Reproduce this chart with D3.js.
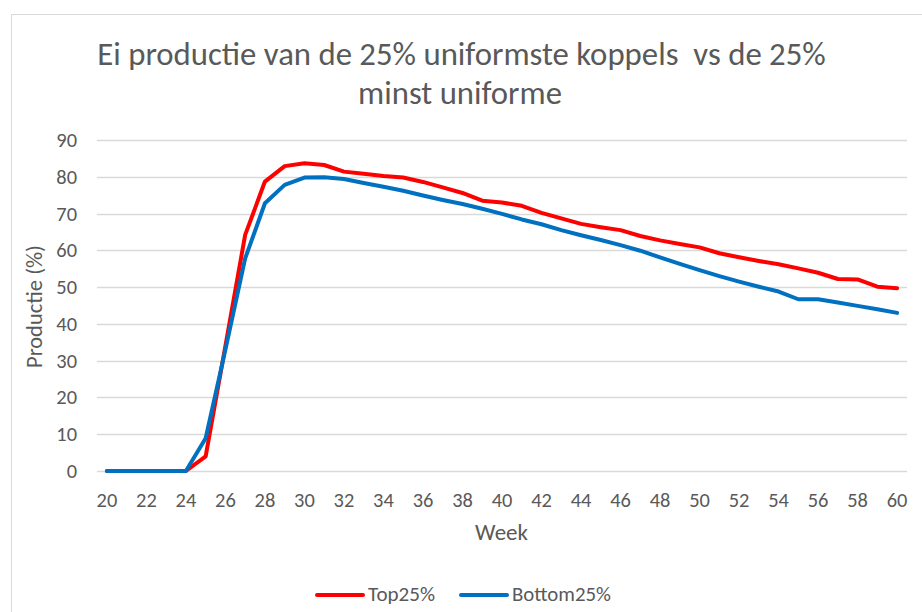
<!DOCTYPE html>
<html>
<head>
<meta charset="utf-8">
<script src="https://cdn.jsdelivr.net/npm/d3@7"></script>
<style>
  html, body { margin: 0; padding: 0; background: #fff; }
  svg { display: block; }
  text { font-family: "Carlito", "Lato", "Open Sans", sans-serif; fill: #595959; white-space: pre; }
</style>
</head>
<body>
<svg id="chart" width="922" height="612"></svg>
<script>
const weeks = d3.range(20, 61);
const top25 = [0, 0, 0, 0, 0, 4, 34, 64.2, 78.7, 82.9, 83.7, 83.2, 81.4, 80.8, 80.2, 79.8, 78.6, 77.1, 75.6, 73.5,
  73.0, 72.1, 70.2, 68.7, 67.2, 66.3, 65.5, 63.9, 62.7, 61.7, 60.8, 59.2, 58.1, 57.1, 56.2, 55.1, 53.9, 52.2, 52.1, 50.1, 49.7];
const bottom25 = [0, 0, 0, 0, 0, 8.9, 33, 57.8, 72.8, 77.8, 79.8, 79.9, 79.4, 78.3, 77.3, 76.2, 74.9, 73.7, 72.6, 71.3,
  69.9, 68.4, 67.1, 65.5, 64.1, 62.8, 61.4, 59.9, 58.1, 56.3, 54.6, 53.0, 51.5, 50.1, 48.8, 46.7, 46.7, 45.8, 44.9, 44.0, 43.0];
const yTicks = [0, 10, 20, 30, 40, 50, 60, 70, 80, 90];
const xTickLabels = weeks.filter(w => w % 2 === 0);
const seriesNames = ["Top25%", "Bottom25%"];
const seriesColors = ["#FF0000", "#0070C0"];
const titleLines = ["Ei productie van de 25% uniformste koppels  vs de 25%", "minst uniforme"];

const svg = d3.select("#chart");

// size a text so that its rendered width matches a target width
function fitSize(str, target, base, weight) {
  const t = svg.append("text").attr("font-size", base).attr("font-weight", weight || 400).text(str);
  const w = t.node().getComputedTextLength();
  t.remove();
  return w > 0 ? base * target / w : base;
}

// chart area border
svg.append("rect").attr("x", 11.5).attr("y", 14.5).attr("width", 930).attr("height", 620)
  .attr("fill", "#fff").attr("stroke", "#d9d9d9").attr("stroke-width", 1);

const x = d3.scaleBand().domain(weeks).range([97, 907]);
const y = d3.scaleLinear().domain([0, 90]).range([471, 140]);
const cx = w => x(w) + x.bandwidth() / 2;

// gridlines
svg.append("g").selectAll("line").data(yTicks).join("line")
  .attr("x1", 97).attr("x2", 907)
  .attr("y1", d => Math.round(y(d)) + 0.5).attr("y2", d => Math.round(y(d)) + 0.5)
  .attr("stroke", "#d9d9d9").attr("stroke-width", 1.3);

const tickSize = fitSize("20", 20.7, 20);

// y axis labels
const yAxis = d3.axisLeft(y).tickValues(yTicks).tickSize(0).tickPadding(0);
const gy = svg.append("g").attr("transform", "translate(77,0)").call(yAxis);
gy.select(".domain").remove();
gy.attr("font-size", null).attr("font-family", null);
gy.selectAll("text").attr("font-size", tickSize).attr("fill", "#595959");

// x axis labels
const xAxis = d3.axisBottom(x).tickValues(xTickLabels).tickSize(0).tickPadding(0);
const gx = svg.append("g").attr("transform", "translate(0,492)").call(xAxis);
gx.select(".domain").remove();
gx.attr("font-size", null).attr("font-family", null);
gx.selectAll("text").attr("font-size", tickSize).attr("fill", "#595959");

// lines
const lineGen = d3.line().x((d, i) => cx(weeks[i])).y(d => y(d));
[top25, bottom25].forEach((s, k) => {
  svg.append("path").datum(s).attr("d", lineGen)
    .attr("fill", "none").attr("stroke", seriesColors[k]).attr("stroke-width", 4)
    .attr("stroke-linejoin", "round").attr("stroke-linecap", "round");
});

// title
svg.append("text").attr("x", 461.5).attr("y", 65).attr("text-anchor", "middle").attr("font-weight", 300)
  .attr("font-size", fitSize(titleLines[0], 729, 30, 300)).text(titleLines[0]);
svg.append("text").attr("x", 460).attr("y", 104).attr("text-anchor", "middle").attr("font-weight", 300)
  .attr("font-size", fitSize(titleLines[1], 204, 30, 300)).text(titleLines[1]);

// axis titles
svg.append("text").attr("x", 501.5).attr("y", 540).attr("text-anchor", "middle")
  .attr("font-size", fitSize("Week", 53, 20)).text("Week");
svg.append("text").attr("transform", "translate(42,306.5) rotate(-90)").attr("text-anchor", "middle")
  .attr("font-size", fitSize("Productie (%)", 123, 20)).text("Productie (%)");

// legend
const legX = [317, 461];
const legW = [67, 99];
seriesNames.forEach((n, k) => {
  svg.append("line").attr("x1", legX[k]).attr("x2", legX[k] + 46).attr("y1", 595).attr("y2", 595)
    .attr("stroke", seriesColors[k]).attr("stroke-width", 4).attr("stroke-linecap", "round");
  svg.append("text").attr("x", legX[k] + 51).attr("y", 601)
    .attr("font-size", fitSize(n, legW[k], 20)).text(n);
});
</script>
</body>
</html>
